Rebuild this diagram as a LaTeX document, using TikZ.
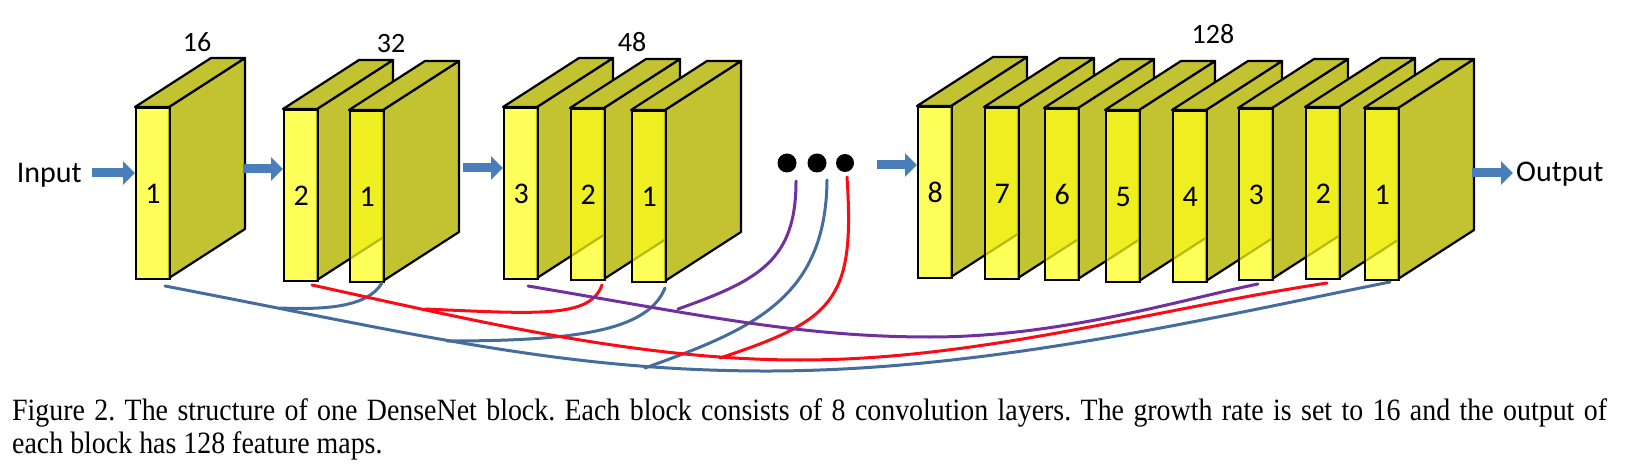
\documentclass[tikz,border=0pt]{standalone}
\usepackage{fontspec}
\usepackage{graphicx}
\setmainfont{Liberation Serif}
\newfontfamily\calib{Carlito}
\usetikzlibrary{arrows.meta,calc}

\definecolor{fy}{RGB}{255,255,26}
\definecolor{olv}{RGB}{195,195,50}
\definecolor{arr}{RGB}{74,126,187}
\definecolor{lblue}{RGB}{68,108,158}
\definecolor{lred}{RGB}{255,10,20}
\definecolor{lpur}{RGB}{112,48,160}

\tikzset{
 front/.style={draw=black, line width=2.2pt, fill=fy, fill opacity=0.72, text opacity=1,
   minimum width=34pt, minimum height=171pt, inner sep=0pt, anchor=north west,
   font=\calib\fontsize{30}{30}\selectfont},
 sideface/.style={draw=black, line width=2.2pt, fill=olv, line join=round},
 bigarrow/.style={draw=arr, line width=9pt, -{Triangle[length=12pt,width=23pt]}},
 conn/.style={line width=3pt, line cap=round},
 toplabel/.style={font=\calib\fontsize{28}{28}\selectfont, inner sep=0pt},
 iolabel/.style={font=\calib\fontsize{30}{30}\selectfont, inner sep=0pt},
 dotnode/.style={circle, fill=black, minimum size=19pt, inner sep=0pt},
 captext/.style={font=\fontsize{31}{33}\selectfont\frenchspacing, inner sep=0pt, anchor=base west},
}

% slab: name, x, y(top), label
\newcommand\myslab[4]{%
  \draw[sideface] (#2+34,#3) -- (#2+110,#3-49) -- (#2+110,#3+122) -- (#2+34,#3+171) -- cycle;
  \draw[sideface] (#2,#3) -- (#2+76,#3-49) -- (#2+110,#3-49) -- (#2+34,#3) -- cycle;
  \node[front] (#1) at (#2,#3) {#4};
}

\newsavebox\capbox
\newcommand\capone{Figure 2. The structure of one DenseNet block. Each block consists of 8 convolution layers. The growth rate is set to 16 and the output of}

\begin{document}
\begin{tikzpicture}[x=1pt,y=-1pt]
\useasboundingbox (0,0) rectangle (1632,470);

% block 1
\myslab{aA}{135}{107}{1}
% block 2
\myslab{bA}{283}{109}{2}
\myslab{bB}{349}{110}{1}
% block 3
\myslab{cA}{503}{107}{3}
\myslab{cB}{570}{108}{2}
\myslab{cC}{631}{110}{1}
% block 4
\myslab{dA}{917}{106}{8}
\myslab{dB}{984}{107}{7}
\myslab{dC}{1044}{108}{6}
\myslab{dD}{1105}{110}{5}
\myslab{dE}{1172}{110}{4}
\myslab{dF}{1238}{108}{3}
\myslab{dG}{1305}{107}{2}
\myslab{dH}{1364}{108}{1}

% top labels
\node[toplabel] (l16) at (197,42) {16};
\node[toplabel] (l32) at (391,44) {32};
\node[toplabel] (l48) at (632,42) {48};
\node[toplabel] (l128) at (1213,34) {128};

% input / output
\node[iolabel, anchor=base east] (in) at (82,183) {Input};
\node[iolabel, anchor=base west] (out) at (1516,182) {Output};

% dots
\node[dotnode] (p1) at (787,163) {};
\node[dotnode] (p2) at (817,163) {};
\node[dotnode, minimum size=18pt] (p3) at (845,163) {};

% big arrows
\coordinate (ai) at (92,173);
\coordinate (a1) at (243,169);
\coordinate (a2) at (463,168);
\coordinate (a3) at (877,165);
\coordinate (ao) at (1472,173);
\coordinate (ae) at (1513,173);
\draw[bigarrow] (ai) -- (ai -| aA.west);
\draw[bigarrow] (a1) -- (a1 -| bA.west);
\draw[bigarrow] (a2) -- (a2 -| cA.west);
\draw[bigarrow] (a3) -- (a3 -| dA.west);
\draw[bigarrow] (ao) -- (ae);

% connector end points
\coordinate (bl1s) at (165,286);
\coordinate (bl1e) at (1390,282);
\coordinate (bl2s) at (382,283);
\coordinate (bl2e) at (280,308);
\coordinate (bl3s) at (665,288);
\coordinate (bl3e) at (447,341);
\coordinate (bl4s) at (827,180);
\coordinate (bl4e) at (645,368);
\coordinate (rd1s) at (312,285);
\coordinate (rd1e) at (1327,283);
\coordinate (rd2s) at (602,285);
\coordinate (rd2e) at (425,309);
\coordinate (rd3s) at (847,177);
\coordinate (rd3e) at (720,358);
\coordinate (pu1s) at (528,286);
\coordinate (pu1e) at (1258,284);
\coordinate (pu2s) at (796,181);
\coordinate (pu2e) at (678,309);

% blue connectors
\draw[conn, lblue] (bl1s) .. controls (420,335) and (560,370) .. (760,371)
                          .. controls (980,372) and (1200,320) .. (bl1e);
\draw[conn, lblue] (bl2s) .. controls (368,306) and (330,310) .. (bl2e);
\draw[conn, lblue] (bl3s) .. controls (648,330) and (580,341) .. (bl3e);
\draw[conn, lblue] (bl4s) .. controls (826,300) and (750,330) .. (bl4e);
% red connectors
\draw[conn, lred] (rd1s) .. controls (480,322) and (640,360) .. (800,360)
                         .. controls (980,360) and (1150,310) .. (rd1e);
\draw[conn, lred] (rd2s) .. controls (590,318) and (540,314) .. (rd2e);
\draw[conn, lred] (rd3s) .. controls (855,300) and (835,320) .. (rd3e);
% purple connectors
\draw[conn, lpur] (pu1s) .. controls (700,315) and (800,337) .. (930,337)
                         .. controls (1060,337) and (1180,300) .. (pu1e);
\draw[conn, lpur] (pu2s) .. controls (796,260) and (760,280) .. (pu2e);

% caption (Times-like, slightly condensed as in the reference)
\node[captext] (cap1) at (12,420) {\sbox\capbox{\capone}%
  \ifdim\wd\capbox>1772pt\resizebox{1595pt}{\height}{\usebox\capbox}\else\scalebox{0.9}[1]{\makebox[1772pt][s]{\capone}}\fi};
\node[captext] (cap2) at (12,453) {\scalebox{0.9}[1]{each block has 128 feature maps.}};
\end{tikzpicture}
\end{document}
